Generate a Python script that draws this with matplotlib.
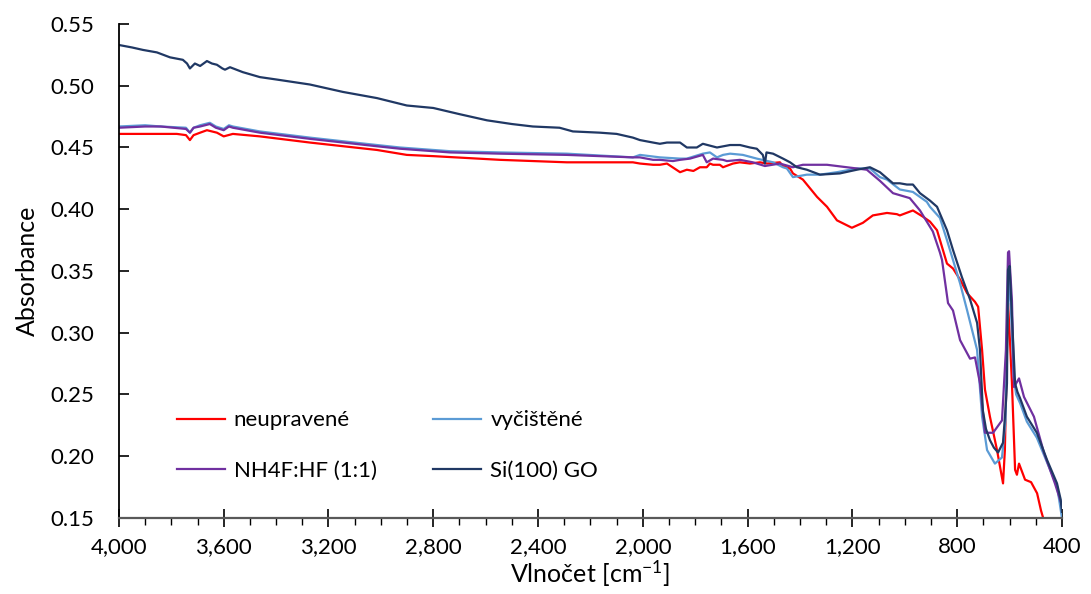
import matplotlib
matplotlib.use("Agg")
import matplotlib.pyplot as plt
from matplotlib.ticker import MultipleLocator, FuncFormatter

plt.rcParams['font.family'] = ['Lato', 'DejaVu Sans']
plt.rcParams['mathtext.fontset'] = 'custom'
plt.rcParams['mathtext.rm'] = 'Lato'
plt.rcParams['mathtext.default'] = 'regular'

# neupravené
wn_raw = [4000, 3850, 3779, 3744, 3729, 3715, 3690, 3664, 3626, 3600, 3565,
          3462, 3271, 3015, 2901, 2800, 2545, 2290, 2164, 2038, 2011, 1961,
          1935, 1908, 1858, 1832, 1807, 1782, 1756, 1744, 1732, 1706, 1694,
          1656, 1630, 1591, 1553, 1526, 1477, 1465, 1438, 1427, 1389, 1335,
          1297, 1259, 1202, 1160, 1122, 1068, 1030, 1019, 969, 931, 904, 877,
          839, 816, 789, 762, 732, 720, 705, 694, 675, 648, 625, 618, 606,
          600, 591, 579, 572, 564, 541, 518, 495, 480, 465]
abs_raw = [0.461, 0.461, 0.461, 0.460, 0.456, 0.460, 0.462, 0.464, 0.462,
           0.459, 0.461, 0.459, 0.454, 0.448, 0.444, 0.443, 0.440, 0.438,
           0.438, 0.438, 0.437, 0.436, 0.436, 0.437, 0.430, 0.432, 0.431,
           0.434, 0.434, 0.437, 0.436, 0.436, 0.434, 0.437, 0.438, 0.437,
           0.438, 0.437, 0.438, 0.435, 0.433, 0.429, 0.424, 0.410, 0.402,
           0.391, 0.385, 0.389, 0.395, 0.397, 0.396, 0.395, 0.399, 0.394,
           0.390, 0.383, 0.356, 0.352, 0.343, 0.332, 0.325, 0.321, 0.286,
           0.254, 0.232, 0.205, 0.178, 0.205, 0.324, 0.300, 0.259, 0.189,
           0.185, 0.194, 0.181, 0.179, 0.170, 0.156, 0.145]

# vyčištěné
wn_clean = [4000, 3900, 3840, 3744, 3729, 3715, 3690, 3653, 3630, 3615, 3600,
            3580, 3565, 3462, 3271, 3015, 2927, 2736, 2545, 2290, 2038, 2011,
            1935, 1858, 1832, 1771, 1744, 1717, 1694, 1667, 1618, 1565, 1503,
            1465, 1450, 1427, 1400, 1374, 1324, 1259, 1183, 1133, 1095, 1068,
            1019, 969, 916, 904, 866, 839, 789, 762, 724, 705, 686, 656, 629,
            615, 610, 603, 595, 585, 575, 560, 534, 496, 457, 419, 400]
abs_clean = [0.467, 0.468, 0.467, 0.466, 0.462, 0.466, 0.468, 0.470, 0.467,
             0.466, 0.465, 0.468, 0.467, 0.463, 0.458, 0.452, 0.450, 0.447,
             0.446, 0.445, 0.442, 0.444, 0.442, 0.441, 0.441, 0.445, 0.446,
             0.442, 0.444, 0.445, 0.444, 0.441, 0.438, 0.434, 0.433, 0.426,
             0.427, 0.428, 0.428, 0.430, 0.433, 0.433, 0.426, 0.424, 0.416,
             0.414, 0.406, 0.402, 0.393, 0.375, 0.340, 0.318, 0.286, 0.232,
             0.205, 0.194, 0.199, 0.230, 0.300, 0.345, 0.320, 0.265, 0.250,
             0.243, 0.228, 0.215, 0.195, 0.176, 0.150]

# NH4F:HF (1:1)
wn_etch = [4000, 3900, 3840, 3744, 3729, 3715, 3690, 3653, 3630, 3600, 3580,
           3565, 3462, 3271, 3015, 2927, 2736, 2545, 2290, 2038, 2011, 1961,
           1935, 1885, 1858, 1820, 1771, 1756, 1732, 1694, 1679, 1629, 1580,
           1534, 1477, 1427, 1389, 1374, 1297, 1221, 1145, 1095, 1045, 981,
           942, 893, 866, 858, 835, 816, 789, 751, 732, 713, 694, 663, 629,
           614, 606, 602, 591, 583, 564, 545, 507, 469, 427, 400]
abs_etch = [0.466, 0.467, 0.467, 0.465, 0.462, 0.466, 0.467, 0.469, 0.466,
            0.464, 0.467, 0.466, 0.462, 0.457, 0.451, 0.449, 0.446, 0.445,
            0.444, 0.442, 0.442, 0.440, 0.440, 0.439, 0.440, 0.441, 0.444,
            0.438, 0.441, 0.440, 0.439, 0.440, 0.438, 0.435, 0.437, 0.434,
            0.436, 0.436, 0.436, 0.434, 0.432, 0.423, 0.413, 0.409, 0.399,
            0.382, 0.365, 0.359, 0.324, 0.318, 0.294, 0.279, 0.280, 0.259,
            0.219, 0.219, 0.229, 0.286, 0.365, 0.366, 0.326, 0.256, 0.263,
            0.248, 0.232, 0.203, 0.178, 0.160]

# Si(100) GO
wn_go = [4000, 3950, 3908, 3855, 3805, 3756, 3740, 3729, 3710, 3690, 3664,
         3645, 3626, 3605, 3595, 3576, 3527, 3462, 3397, 3271, 3145, 3015,
         2901, 2800, 2700, 2595, 2500, 2420, 2318, 2267, 2164, 2100, 2038,
         2011, 1961, 1935, 1908, 1858, 1832, 1794, 1771, 1717, 1667, 1629,
         1591, 1565, 1542, 1534, 1528, 1503, 1465, 1438, 1412, 1374, 1324,
         1248, 1183, 1133, 1095, 1045, 1019, 992, 969, 942, 904, 877, 839,
         816, 782, 751, 724, 713, 702, 690, 675, 660, 644, 625, 615, 610,
         606, 600, 591, 579, 570, 560, 534, 496, 457, 419, 405, 400]
abs_go = [0.533, 0.531, 0.529, 0.527, 0.523, 0.521, 0.518, 0.514, 0.518,
          0.516, 0.520, 0.518, 0.517, 0.514, 0.513, 0.515, 0.511, 0.507,
          0.505, 0.501, 0.495, 0.490, 0.484, 0.482, 0.477, 0.472, 0.469,
          0.467, 0.466, 0.463, 0.462, 0.461, 0.458, 0.456, 0.454, 0.453,
          0.454, 0.454, 0.450, 0.450, 0.453, 0.450, 0.452, 0.452, 0.450,
          0.449, 0.444, 0.437, 0.446, 0.445, 0.441, 0.438, 0.434, 0.432,
          0.428, 0.429, 0.432, 0.434, 0.430, 0.421, 0.421, 0.420, 0.420,
          0.413, 0.407, 0.402, 0.383, 0.367, 0.345, 0.327, 0.308, 0.286,
          0.237, 0.222, 0.213, 0.207, 0.203, 0.211, 0.240, 0.259, 0.351,
          0.354, 0.313, 0.259, 0.252, 0.247, 0.232, 0.219, 0.197, 0.178,
          0.165, 0.155]

series = [
    (wn_raw, abs_raw, 'neupravené', '#FF0000'),
    (wn_clean, abs_clean, 'vyčištěné', '#5B9BD5'),
    (wn_etch, abs_etch, 'NH4F:HF (1:1)', '#7030A0'),
    (wn_go, abs_go, 'Si(100) GO', '#203864'),
]


def main():
    fig = plt.figure(figsize=(10.91, 5.94), dpi=100)
    ax = fig.add_axes([0.109, 0.128, 0.8644, 0.8316])

    lines = []
    for x, y, label, color in series:
        line, = ax.plot(x, y, color=color, lw=1.6, label=label)
        lines.append(line)

    ax.set_xlim(4000, 400)
    ax.set_ylim(0.15, 0.55)
    ax.xaxis.set_major_locator(MultipleLocator(400))
    ax.xaxis.set_minor_locator(MultipleLocator(100))
    ax.yaxis.set_major_locator(MultipleLocator(0.05))
    ax.xaxis.set_major_formatter(FuncFormatter(lambda v, p: f'{v:,.0f}'))
    ax.yaxis.set_major_formatter(FuncFormatter(lambda v, p: f'{v:.2f}'))

    ax.spines['top'].set_visible(False)
    ax.spines['right'].set_visible(False)
    ax.spines['left'].set_linewidth(1.3)
    ax.spines['bottom'].set_linewidth(1.6)
    ax.spines['bottom'].set_color('#595959')

    ax.tick_params(axis='x', which='major', direction='inout', length=13,
                   width=1.2, labelsize=16, pad=7)
    ax.tick_params(axis='x', which='minor', direction='out', length=5,
                   width=1.0)
    ax.tick_params(axis='y', which='major', direction='in', length=7,
                   width=1.2, labelsize=16, pad=18)

    ax.set_xlabel('Vlnočet [cm$^{-1}$]', fontsize=18, labelpad=1)
    ax.set_ylabel('Absorbance', fontsize=18, labelpad=8)

    # legend filled row by row: column order is raw/etch, clean/go
    order = [0, 2, 1, 3]
    ax.legend([lines[i] for i in order],
              [series[i][2] for i in order],
              ncol=2, loc='upper left', bbox_to_anchor=(0.0615, 0.218),
              frameon=False, fontsize=16, borderpad=0, handlelength=2.16,
              handletextpad=0.4, columnspacing=2.55, labelspacing=1.38,
              borderaxespad=0)

    fig.savefig('out.png', dpi=100)


if __name__ == "__main__":
    main()
